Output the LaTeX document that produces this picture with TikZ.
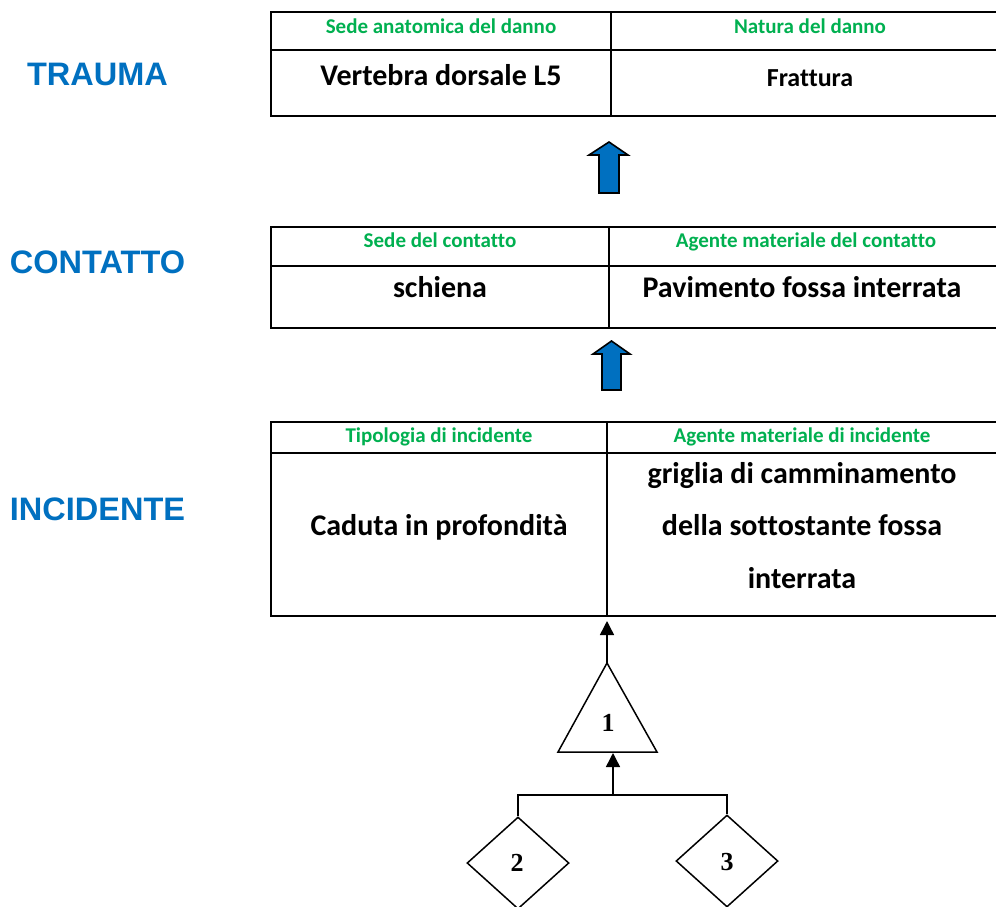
\documentclass[tikz,border=0pt]{standalone}
\usepackage{fontspec}
\setmainfont{Carlito}[Ligatures=NoCommon]
\newfontfamily\arialb{Liberation Sans}
\newfontfamily\timesf{Liberation Serif}
\usetikzlibrary{shapes.geometric,arrows.meta}
\definecolor{hdgreen}{HTML}{00B050}
\definecolor{lblue}{HTML}{0070C0}
\tikzset{
  tbl/.style={draw=black,line width=1.8pt},
  hdr/.style={text=hdgreen,font=\fontsize{21}{24}\selectfont\bfseries,inner sep=0pt,anchor=base},
  cell/.style={text=black,font=\fontsize{30}{34}\selectfont\bfseries,inner sep=0pt,anchor=base},
  side/.style={text=lblue,font=\arialb\fontsize{32.5}{36}\selectfont\bfseries,inner sep=0pt,anchor=base},
  bigarrow/.style={draw=black,line width=1.6pt,fill=lblue,line join=miter},
  ft/.style={draw=black,line width=1.5pt},
  ftarrow/.style={ft,-{Triangle[length=14pt,width=14pt]}},
  gate/.style={diamond,draw=black,line width=1.5pt,minimum width=102pt,minimum height=92pt,inner sep=0pt},
  num/.style={font=\timesf\fontsize{26}{28}\selectfont\bfseries,inner sep=0pt,anchor=base}
}
\begin{document}
\begin{tikzpicture}[x=1pt,y=-1pt]
\useasboundingbox[fill=white] (0,0) rectangle (996,906);
% side labels
\node[side] (lt) at (97.5,85) {TRAUMA};
\node[side] (lc) at (97.5,273) {CONTATTO};
\node[side] (li) at (97.5,520) {INCIDENTE};
% table 1
\draw[tbl] (996,12) -- (271,12) -- (271,116) -- (996,116);
\draw[tbl] (271,50) -- (996,50);
\draw[tbl] (611,12) -- (611,116);
\node[hdr] (h11) at (441,33) {Sede anatomica del danno};
\node[hdr] (h12) at (810,33) {Natura del danno};
\node[cell] (c11) at (441,85) {Vertebra dorsale L5};
\node[cell,font=\fontsize{26}{30}\selectfont\bfseries] (c12) at (810,86) {Frattura};
% arrow 1
\draw[bigarrow] (599,193) -- (599,155) -- (589,155) -- (609,142) -- (628,155) -- (619,155) -- (619,193) -- cycle;
% table 2
\draw[tbl] (996,227) -- (271,227) -- (271,328) -- (996,328);
\draw[tbl] (271,266) -- (996,266);
\draw[tbl] (609,227) -- (609,328);
\node[hdr] (h21) at (440,247) {Sede del contatto};
\node[hdr] (h22) at (806,247) {Agente materiale del contatto};
\node[cell] (c21) at (440,297) {schiena};
\node[cell] (c22) at (802,297) {Pavimento fossa interrata};
% arrow 2
\draw[bigarrow] (602,390) -- (602,354) -- (593,354) -- (611.5,341) -- (630,354) -- (621,354) -- (621,390) -- cycle;
% table 3
\draw[tbl] (996,422) -- (271,422) -- (271,616) -- (996,616);
\draw[tbl] (271,453) -- (996,453);
\draw[tbl] (607,422) -- (607,616);
\node[hdr] (h31) at (439,442) {Tipologia di incidente};
\node[hdr] (h32) at (802,442) {Agente materiale di incidente};
\node[cell] (c31) at (439,535) {Caduta in profondità};
\node[cell] (c32a) at (802,483) {griglia di camminamento};
\node[cell] (c32b) at (802,535) {della sottostante fossa};
\node[cell] (c32c) at (802,588) {interrata};
\coordinate (tb) at (607,621);
% fault tree
\coordinate (apex) at (607,663);
\coordinate (bl) at (558,752);
\coordinate (br) at (657,752);
\draw[ft,line join=miter] (apex) -- (bl) -- (br) -- cycle;
\node[num] (g1) at (608,731) {1};
\draw[ftarrow] (apex) -- (tb);
\node[gate] (g2) at (518,863) {};
\node[gate] (g3) at (727,861) {};
\node[num] (n2) at (517,871) {2};
\node[num] (n3) at (727,870) {3};
\coordinate (jn) at (613,795);
\coordinate (tbase) at (613,753);
\draw[ft] (g2.north) -- (518,795) -- (727,795) -- (g3.north);
\draw[ftarrow] (jn) -- (tbase);
\end{tikzpicture}
\end{document}
